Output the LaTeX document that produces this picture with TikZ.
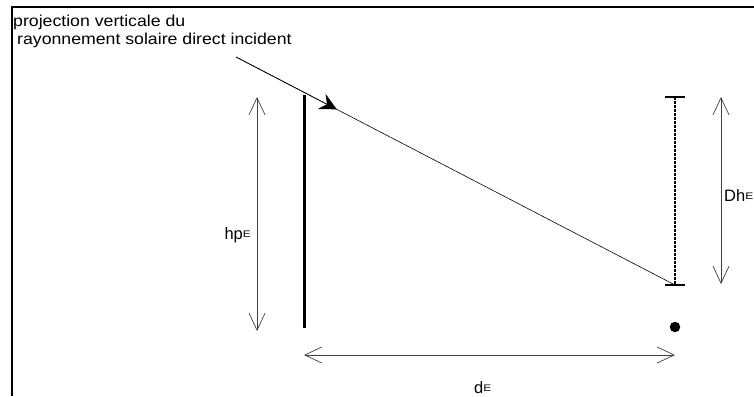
\documentclass[tikz,border=0pt]{standalone}
\usepackage{fontspec}
\setmainfont{Liberation Sans}
\newfontfamily\titlefont[FakeStretch=1.12]{Liberation Sans}
\newfontfamily\supfont[FakeStretch=1.25]{Liberation Sans}
\usetikzlibrary{arrows.meta,positioning,calc}
\newcommand{\expo}[1]{\raisebox{1.8pt}{\supfont\fontsize{9.5}{9.5}\selectfont #1}}
\tikzset{
  frame/.style={line width=2.5pt},
  wall/.style={line width=3pt},
  ray/.style={line width=0.6pt},
  rayhead/.style={-{Stealth[length=17pt, width=17pt, inset=6pt]}, line width=0.6pt},
  dim/.style={{Straight Barb[length=17pt, width=16pt]}-{Straight Barb[length=17pt, width=16pt]}, line width=0.7pt, black!75},
  vproj/.style={line width=1.2pt, dash pattern=on 2.5pt off 1.5pt},
  endbar/.style={line width=2pt},
  lbl/.style={inner sep=0pt, font=\fontsize{16.5}{18}\selectfont}
}

\begin{document}
\begin{tikzpicture}[x=1pt, y=-1pt]
  \useasboundingbox (0,0) rectangle (754,396);
  % frame
  \coordinate (frametr) at (754,7);
  \coordinate (frametl) at (12,7);
  \coordinate (framebl) at (12,396);
  \draw[frame] (frametr) -- (frametl) -- (framebl);

  \node[lbl, font=\titlefont\fontsize{15.8}{18.5}\selectfont, anchor=north west, align=left] (title) at (13,14.5)
    {projection verticale du\\\hspace*{4pt}rayonnement solaire direct incident};

  % wall and ray
  \coordinate (walltop) at (304.5,95);
  \coordinate (wallbot) at (304.5,328);
  \coordinate (raystart) at (236,57);
  \coordinate (rayend) at (675,285);
  \coordinate (projtop) at (675,97);
  \draw[wall] (walltop) -- (wallbot);
  \draw[ray] (raystart) -- (rayend);
  \draw[rayhead] (raystart) -- ($(raystart)!0.2295!(rayend)$);
  \draw[vproj] (projtop) -- (rayend);
  \draw[endbar] ($(projtop)+(-10,0)$) -- ($(projtop)+(10,0)$);
  \draw[endbar] ($(rayend)+(-10,0)$) -- ($(rayend)+(10,0)$);
  \node[circle, fill, inner sep=0pt, minimum size=10.5pt] (point) at (675,327) {};

  % dimensions
  \coordinate (hptop) at (257,97);
  \coordinate (hpbot) at (257,331);
  \coordinate (dhtop) at (721,97);
  \coordinate (dhbot) at (721,284);
  \coordinate (dleft) at (304,355);
  \coordinate (dright) at (675,355);
  \draw[dim] (hptop) -- (hpbot);
  \draw[dim] (dhtop) -- (dhbot);
  \draw[dim] (dleft) -- (dright);

  \node[lbl, anchor=base east] (hplabel) at (251,239) {hp\expo{E}};
  \node[lbl, anchor=base west] (dhlabel) at (724,201) {Dh\expo{E}};
  \node[lbl, anchor=base west] (dlabel) at (474,393) {d\expo{E}};
\end{tikzpicture}
\end{document}
